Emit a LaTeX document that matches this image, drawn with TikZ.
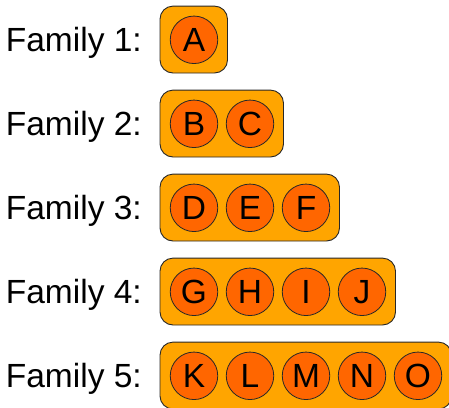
\documentclass[tikz,border=0pt]{standalone}
\usepackage{fontspec}
\setmainfont{Liberation Sans}
\definecolor{boxfill}{RGB}{255,165,0}
\definecolor{ballfill}{RGB}{255,102,0}
\definecolor{edge}{RGB}{40,40,40}
\begin{document}
\begin{tikzpicture}[x=1pt,y=-1pt,
  famlabel/.style={anchor=base west,inner sep=0pt,font=\fontsize{33.5}{40}\selectfont},
  famgroup/.style={draw=edge,line width=0.9pt,fill=boxfill,rounded corners=13pt},
  ball/.style={circle,draw=edge,line width=0.8pt,fill=ballfill,minimum size=47.5pt,inner sep=0pt,font=\fontsize{33.5}{40}\selectfont}]
\useasboundingbox (0,0) rectangle (449,407);
\begin{scope}
\clip (0,0) rectangle (449,407);
\foreach \r/\letters [count=\i] in {1/{A}, 2/{B,C}, 3/{D,E,F}, 4/{G,H,I,J}, 5/{K,L,M,N,O}} {
  \pgfmathsetmacro{\cy}{39.8+84*(\i-1)}
  \pgfmathsetmacro{\bx}{194+56*(\r-1)+33.5}
  \node[famlabel] (lab\i) at (5.7,\cy+11.8) {Family \r:};
  \draw[famgroup] (160,\cy-33.7) rectangle (\bx,\cy+33.2);
  \foreach \L [count=\j] in \letters {
    \node[ball] (c\i\j) at ({194+56*(\j-1)},\cy) {\L};
  }
}
\end{scope}
\end{tikzpicture}
\end{document}
